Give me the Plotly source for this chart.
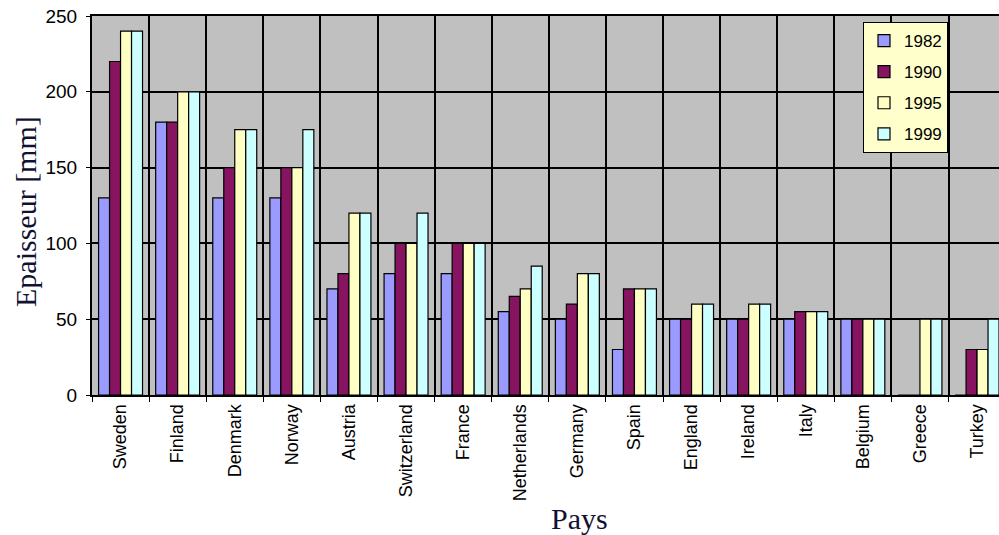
import plotly.graph_objects as go

countries = ["Sweden", "Finland", "Denmark", "Norway", "Austria", "Switzerland",
             "France", "Netherlands", "Germany", "Spain", "England", "Ireland",
             "Italy", "Belgium", "Greece", "Turkey"]
years = ["1982", "1990", "1995", "1999"]
v1982 = [130, 180, 130, 130, 70, 80, 80, 55, 50, 30, 50, 50, 50, 50, 0, 0]
v1990 = [220, 180, 150, 150, 80, 100, 100, 65, 60, 70, 50, 50, 55, 50, 0, 30]
v1995 = [240, 200, 175, 150, 120, 100, 100, 70, 80, 70, 60, 60, 55, 50, 50, 30]
v1999 = [240, 200, 175, 175, 120, 120, 100, 85, 80, 70, 60, 60, 55, 50, 50, 50]
y_ticks = [0, 50, 100, 150, 200, 250]

series = [v1982, v1990, v1995, v1999]
colors = ["#9a9aff", "#861460", "#ffffc4", "#ccffff"]

fig = go.Figure()
for name, vals, col in zip(years, series, colors):
    fig.add_trace(go.Bar(
        x=countries, y=vals, name=name, legendgroup=name,
        marker=dict(color=col, line=dict(color="black", width=1.2)),
    ))

L, T, PW, PH = 92, 16, 907, 379

fig.update_layout(
    width=999, height=535,
    margin=dict(l=L, r=0, t=T, b=535 - T - PH, autoexpand=False),
    paper_bgcolor="white", plot_bgcolor="#c0c0c0",
    barmode="group", bargap=0.23, bargroupgap=0,
    font=dict(family="Liberation Sans, Arial, sans-serif", size=18, color="black"),
    legend=dict(
        x=(863 - L) / PW, y=1 - (22 - T) / PH, xanchor="left", yanchor="top",
        bgcolor="#ffffcc", bordercolor="black", borderwidth=1,
        font=dict(size=17, color="black"), tracegroupgap=6,
        traceorder="grouped", itemwidth=30,
    ),
    showlegend=True,
)

fig.update_xaxes(
    type="category", range=[-0.5, -0.5 + PW / 57.1],
    tickson="boundaries", ticks="outside", ticklen=5, tickcolor="black",
    showgrid=True, gridcolor="black", gridwidth=1.5,
    showline=True, linecolor="black", linewidth=2, mirror=True,
    tickangle=-90, tickfont=dict(size=18),
)
fig.update_yaxes(
    range=[0, 250], tickvals=y_ticks, ticktext=[str(t) for t in y_ticks],
    ticks="outside", ticklen=4, tickcolor="black",
    showgrid=True, gridcolor="black", gridwidth=1.5,
    showline=True, linecolor="black", linewidth=2, mirror=False,
    tickfont=dict(size=19), zeroline=False, ticklabelstandoff=5,
)

fig.add_annotation(
    text="Epaisseur [mm]", xref="paper", yref="paper",
    x=(25 - L) / PW, y=1 - (212 - T) / PH, xanchor="center", yanchor="middle",
    showarrow=False, textangle=-90,
    font=dict(family="Liberation Serif, Times New Roman, serif", size=30, color="#111133"),
)
fig.add_annotation(
    text="Pays", xref="paper", yref="paper",
    x=(579 - L) / PW, y=1 - (518 - T) / PH, xanchor="center", yanchor="middle",
    showarrow=False,
    font=dict(family="Liberation Serif, Times New Roman, serif", size=30, color="#111133"),
)

fig.write_html(
    "out.html",
    config={"displayModeBar": False},
    post_script="document.body.style.margin='0';document.body.style.overflow='hidden';",
)
